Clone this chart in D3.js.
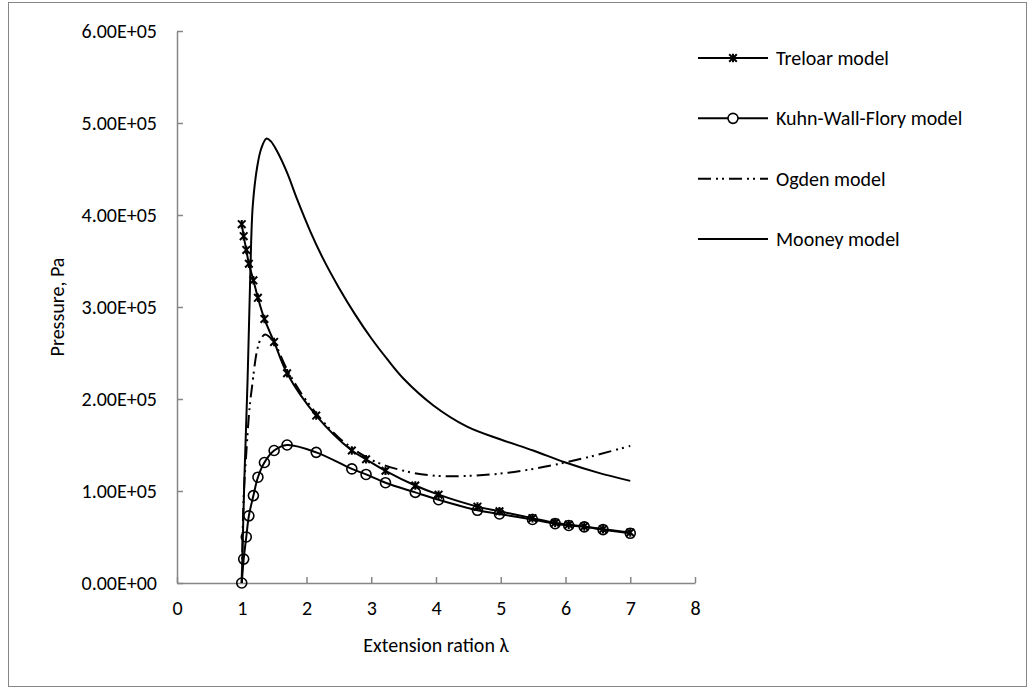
<!DOCTYPE html>
<html lang="en">
<head>
<meta charset="UTF-8">
<title>Pressure vs extension ratio</title>
<script src="https://cdnjs.cloudflare.com/ajax/libs/d3/7.8.5/d3.min.js"></script>
<style>
  body { margin: 0; background: #fff; font-family: Carlito, Calibri, Lato, sans-serif; }
  svg text { font-family: Carlito, Calibri, Lato, sans-serif; fill: #000; }
</style>
</head>
<body>
<div id="chart"></div>
<script>
// extension ratio (shared by the two marker series)
var lambdaMarked = [1.0, 1.03, 1.07, 1.11, 1.18, 1.25, 1.35, 1.5, 1.7, 2.15, 2.7, 2.92, 3.22, 3.68, 4.04, 4.64, 4.98, 5.49, 5.84, 6.05, 6.29, 6.58, 7.0];
var treloar = [390000, 377000, 362000, 347000, 329000, 310000, 287000, 262000, 228000, 182000, 144000, 134500, 122000, 106000, 96000, 83000, 78000, 70500, 65500, 63500, 61500, 58500, 55000];
var kuhnWallFlory = [0, 26000, 50000, 73000, 95000, 115000, 131000, 144000, 150000, 142000, 124000, 118000, 109000, 98500, 90500, 79000, 75000, 69000, 64500, 62500, 61000, 58000, 54000];

var lambdaOgden = [1.0, 1.03, 1.07, 1.12, 1.16, 1.24, 1.3, 1.36, 1.42, 1.5, 1.7, 2.0, 2.5, 3.0, 3.5, 4.0, 4.5, 5.0, 5.5, 6.0, 6.5, 7.0];
var ogden = [0, 94000, 141000, 190000, 214000, 254000, 266000, 270000, 268000, 262000, 232000, 198000, 158000, 134000, 122000, 116500, 116500, 119000, 124000, 131000, 139500, 149000];

var lambdaMooney = [1.0, 1.04, 1.09, 1.13, 1.17, 1.24, 1.3, 1.38, 1.45, 1.54, 1.7, 1.85, 2.06, 2.26, 2.5, 2.75, 3.0, 3.25, 3.5, 3.96, 4.48, 5.0, 5.5, 6.0, 6.5, 7.0];
var mooney = [0, 112000, 221000, 330000, 410000, 453000, 472000, 483000, 480000, 470000, 446000, 418000, 382000, 352000, 321000, 292000, 266000, 243000, 222000, 193000, 170000, 156000, 144000, 131000, 120000, 111000];

var xTicks = [0, 1, 2, 3, 4, 5, 6, 7, 8];
var yTicks = [0, 100000, 200000, 300000, 400000, 500000, 600000];
var seriesNames = ["Treloar model", "Kuhn-Wall-Flory model", "Ogden model", "Mooney model"];

var W = 1035, H = 690;
var fontSize = 20;
var ogdenDash = "13,5,2,4,2,5";
var axisColor = "#868686";

var svg = d3.select("#chart").append("svg")
  .attr("width", W).attr("height", H);

// outer chart border
svg.append("rect")
  .attr("x", 8.5).attr("y", 2.5)
  .attr("width", 1018).attr("height", 684)
  .attr("fill", "#fff").attr("stroke", axisColor).attr("stroke-width", 1);

var x = d3.scaleLinear().domain([0, 8]).range([177, 695]);
var y = d3.scaleLinear().domain([0, 600000]).range([583, 31]);

// axes
var xAxis = svg.append("g")
  .attr("transform", "translate(0," + y(0) + ")")
  .call(d3.axisBottom(x).tickValues(xTicks).tickSizeInner(-6).tickSizeOuter(0).tickPadding(18).tickFormat(d3.format("d")));
var yAxis = svg.append("g")
  .attr("transform", "translate(" + x(0) + ",0)")
  .call(d3.axisLeft(y).tickValues(yTicks).tickSizeInner(-6).tickSizeOuter(0).tickPadding(20)
    .tickFormat(function(d) { return d3.format(".2e")(d).replace("e+", "E+0"); }));

[xAxis, yAxis].forEach(function(a) {
  a.select(".domain").attr("stroke", axisColor).attr("stroke-width", 1.5);
  a.selectAll(".tick line").attr("stroke", axisColor).attr("stroke-width", 1.5);
  a.selectAll(".tick text").attr("font-size", fontSize).attr("fill", "#000");
});

// axis titles
svg.append("text")
  .attr("x", (x(0) + x(8)) / 2).attr("y", 652)
  .attr("text-anchor", "middle").attr("font-size", fontSize)
  .text("Extension ration \u03bb");
svg.append("text")
  .attr("transform", "translate(64," + y(300000) + ") rotate(-90)")
  .attr("text-anchor", "middle").attr("font-size", fontSize)
  .text("Pressure, Pa");

var line = d3.line()
  .x(function(d) { return x(d[0]); })
  .y(function(d) { return y(d[1]); })
  .curve(d3.curveCatmullRom.alpha(0.5));

function pairs(xs, ys) { return xs.map(function(v, i) { return [v, ys[i]]; }); }

var treloarData = pairs(lambdaMarked, treloar);
var kwfData = pairs(lambdaMarked, kuhnWallFlory);
var ogdenData = pairs(lambdaOgden, ogden);
var mooneyData = pairs(lambdaMooney, mooney);

svg.append("path").datum(mooneyData)
  .attr("fill", "none").attr("stroke", "#000").attr("stroke-width", 2).attr("d", line);
svg.append("path").datum(ogdenData)
  .attr("fill", "none").attr("stroke", "#000").attr("stroke-width", 2)
  .attr("stroke-dasharray", ogdenDash).attr("d", line);
svg.append("path").datum(kwfData)
  .attr("fill", "none").attr("stroke", "#000").attr("stroke-width", 2).attr("d", line);
svg.append("path").datum(treloarData)
  .attr("fill", "none").attr("stroke", "#000").attr("stroke-width", 2).attr("d", line);

function drawStar(g, cx, cy) {
  var s = 3.8;
  g.append("path")
    .attr("d", "M" + (cx - s) + "," + (cy - s) + "L" + (cx + s) + "," + (cy + s) +
      "M" + (cx - s) + "," + (cy + s) + "L" + (cx + s) + "," + (cy - s) +
      "M" + cx + "," + (cy - s - 0.5) + "L" + cx + "," + (cy + s + 0.5))
    .attr("stroke", "#000").attr("stroke-width", 2).attr("fill", "none");
}
function drawCircle(g, cx, cy, fill) {
  g.append("circle").attr("cx", cx).attr("cy", cy).attr("r", 5)
    .attr("fill", fill || "none").attr("stroke", "#000").attr("stroke-width", 1.6);
}

var markers = svg.append("g");
kwfData.forEach(function(d) { drawCircle(markers, x(d[0]), y(d[1])); });
treloarData.forEach(function(d) { drawStar(markers, x(d[0]), y(d[1])); });

// legend
var legendY = d3.scalePoint().domain(seriesNames).range([58, 239]);
var lx0 = 698, lx1 = 768, ltx = 776;
seriesNames.forEach(function(name, i) {
  var ly = legendY(name);
  var ln = svg.append("line")
    .attr("x1", lx0).attr("x2", lx1).attr("y1", ly).attr("y2", ly)
    .attr("stroke", "#000").attr("stroke-width", 2);
  if (i === 2) ln.attr("stroke-dasharray", ogdenDash);
  if (i === 0) drawStar(svg, (lx0 + lx1) / 2, ly);
  if (i === 1) drawCircle(svg, (lx0 + lx1) / 2, ly, "#fff");
  svg.append("text").attr("x", ltx).attr("y", ly).attr("dy", "0.35em")
    .attr("font-size", fontSize).text(name);
});
</script>
</body>
</html>
